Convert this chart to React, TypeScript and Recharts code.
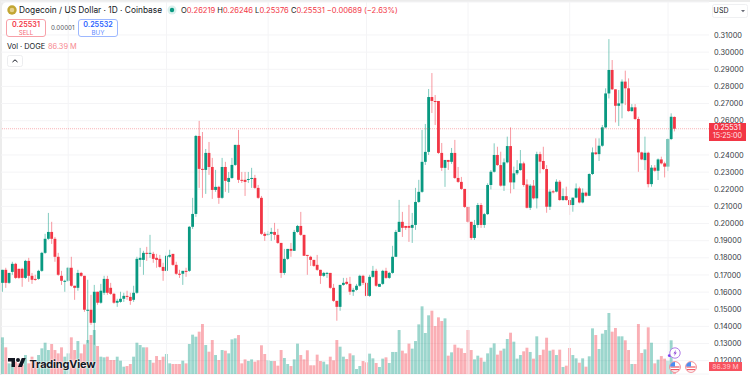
import { Bar, ComposedChart, CartesianGrid, ReferenceLine, XAxis, YAxis } from 'recharts';

const opens = [
  0.1654, 0.173, 0.1654, 0.1718, 0.1765, 0.1736, 0.1736, 0.1683, 0.1782, 0.1695,
  0.1677, 0.1677, 0.1724, 0.1829, 0.1911, 0.1951, 0.1911, 0.1806, 0.1695, 0.166,
  0.1666, 0.1742, 0.1637, 0.1625, 0.1712, 0.1695, 0.1491, 0.1497, 0.1421, 0.1602,
  0.1538, 0.1596, 0.1677, 0.1625, 0.159, 0.1538, 0.1543, 0.1561, 0.1578, 0.1572,
  0.1555, 0.1596, 0.1788, 0.1788, 0.1829, 0.1823, 0.1823, 0.18, 0.1794, 0.1747,
  0.1724, 0.1806, 0.1823, 0.1759, 0.1707, 0.1707, 0.1724, 0.1724, 0.1981, 0.2056,
  0.2511, 0.2319, 0.2313, 0.2412, 0.233, 0.2196, 0.2214, 0.215, 0.233, 0.2243,
  0.2266, 0.2342, 0.2459, 0.2255, 0.2255, 0.2255, 0.226, 0.2266, 0.2208, 0.215,
  0.194, 0.1934, 0.194, 0.1951, 0.1934, 0.1887, 0.1712, 0.1794, 0.1852, 0.1841,
  0.1951, 0.1986, 0.1934, 0.1817, 0.1806, 0.1788, 0.1759, 0.173, 0.1695, 0.1707,
  0.1712, 0.1625, 0.1549, 0.1514, 0.1642, 0.166, 0.1648, 0.1602, 0.1613, 0.1637,
  0.1695, 0.1654, 0.1578, 0.1689, 0.1724, 0.1631, 0.1648, 0.1724, 0.1683, 0.1712,
  0.1806, 0.1951, 0.201, 0.1986, 0.1986, 0.1975, 0.1992, 0.2126, 0.2185, 0.236,
  0.2418, 0.2738, 0.2715, 0.2715, 0.2412, 0.2325, 0.2371, 0.236, 0.2412, 0.2266,
  0.2243, 0.2202, 0.2097, 0.201, 0.1916, 0.1992, 0.2108, 0.1992, 0.2055, 0.2225,
  0.2302, 0.24, 0.2341, 0.2221, 0.2357, 0.2452, 0.224, 0.2293, 0.2312, 0.2351,
  0.2228, 0.2092, 0.2221, 0.2147, 0.2405, 0.2365, 0.2318, 0.2098, 0.2188, 0.2186,
  0.2244, 0.2137, 0.216, 0.2137, 0.2108, 0.2151, 0.2205, 0.2123, 0.218, 0.2162,
  0.2289, 0.2415, 0.2405, 0.2454, 0.2561, 0.2759, 0.2896, 0.2783, 0.2687, 0.2701,
  0.2828, 0.2789, 0.2656, 0.2678, 0.261, 0.2415, 0.237, 0.2413, 0.223, 0.2326,
  0.2308, 0.2374, 0.2351, 0.2332, 0.2493, 0.26219,
];

const highs = [
  0.173, 0.1742, 0.1712, 0.1777, 0.1771, 0.1736, 0.1742, 0.1788, 0.18, 0.1712,
  0.1701, 0.173, 0.1835, 0.194, 0.2062, 0.201, 0.1922, 0.1829, 0.1724, 0.1672,
  0.1747, 0.1806, 0.1637, 0.173, 0.1718, 0.1695, 0.1672, 0.1584, 0.1642, 0.1602,
  0.1648, 0.1695, 0.1695, 0.1654, 0.1596, 0.1561, 0.1602, 0.1596, 0.1608, 0.1596,
  0.1637, 0.1806, 0.1858, 0.1841, 0.1864, 0.1934, 0.1835, 0.1823, 0.1817, 0.1771,
  0.1835, 0.1847, 0.1823, 0.1777, 0.173, 0.1724, 0.1742, 0.1986, 0.215, 0.2517,
  0.2599, 0.2534, 0.2435, 0.2476, 0.2383, 0.2313, 0.222, 0.2383, 0.236, 0.2301,
  0.2383, 0.2459, 0.2546, 0.2301, 0.2301, 0.2301, 0.2325, 0.2284, 0.2225, 0.2161,
  0.1951, 0.1957, 0.1975, 0.2004, 0.1969, 0.1887, 0.1852, 0.1852, 0.1887, 0.1963,
  0.1992, 0.2068, 0.1934, 0.1817, 0.1812, 0.1788, 0.1817, 0.173, 0.1718, 0.1718,
  0.1712, 0.1648, 0.1549, 0.1642, 0.1683, 0.1683, 0.1689, 0.1625, 0.1648, 0.1701,
  0.1701, 0.166, 0.1701, 0.1753, 0.1736, 0.1648, 0.173, 0.1742, 0.1718, 0.187,
  0.1963, 0.2138, 0.2068, 0.1986, 0.2109, 0.2062, 0.2208, 0.2255, 0.2546, 0.2581,
  0.2785, 0.2878, 0.275, 0.2715, 0.247, 0.2371, 0.2371, 0.2441, 0.2488, 0.233,
  0.2272, 0.2202, 0.2097, 0.201, 0.2021, 0.212, 0.212, 0.2062, 0.2235, 0.2312,
  0.2468, 0.2448, 0.2419, 0.238, 0.2507, 0.2561, 0.2332, 0.237, 0.2429, 0.2361,
  0.2258, 0.223, 0.2254, 0.2419, 0.2419, 0.2448, 0.2341, 0.2199, 0.2195, 0.2258,
  0.2254, 0.2205, 0.2215, 0.2156, 0.2151, 0.2234, 0.2215, 0.2205, 0.2186, 0.2293,
  0.2444, 0.2497, 0.2497, 0.2575, 0.2789, 0.3076, 0.2954, 0.2783, 0.2779, 0.2841,
  0.2892, 0.2847, 0.2697, 0.2697, 0.2623, 0.2419, 0.2507, 0.2419, 0.2341, 0.2341,
  0.238, 0.239, 0.2361, 0.2497, 0.2643, 0.26246,
];

const lows = [
  0.1602, 0.1625, 0.1648, 0.1701, 0.1677, 0.1677, 0.1631, 0.1677, 0.166, 0.1648,
  0.1666, 0.1672, 0.1718, 0.1823, 0.1905, 0.1881, 0.1777, 0.1695, 0.1642, 0.1602,
  0.166, 0.1631, 0.1555, 0.1608, 0.1689, 0.1485, 0.1304, 0.1409, 0.1293, 0.1526,
  0.1532, 0.1584, 0.1584, 0.1584, 0.1532, 0.1514, 0.1538, 0.1543, 0.1555, 0.1526,
  0.1543, 0.159, 0.1747, 0.1701, 0.1782, 0.18, 0.1771, 0.1742, 0.1742, 0.1666,
  0.1718, 0.18, 0.1753, 0.1701, 0.1683, 0.1642, 0.1689, 0.1718, 0.1969, 0.2039,
  0.2208, 0.215, 0.2173, 0.2284, 0.2144, 0.2185, 0.2115, 0.2144, 0.2185, 0.2179,
  0.226, 0.2336, 0.2237, 0.2237, 0.2161, 0.2237, 0.2208, 0.2202, 0.2144, 0.1934,
  0.1899, 0.1928, 0.1899, 0.1905, 0.1881, 0.1683, 0.1701, 0.1788, 0.1806, 0.1841,
  0.1946, 0.1928, 0.1812, 0.1701, 0.1753, 0.1747, 0.1724, 0.1648, 0.1689, 0.1683,
  0.1619, 0.1543, 0.1433, 0.1491, 0.1637, 0.1642, 0.1584, 0.1578, 0.1608, 0.1631,
  0.1642, 0.1572, 0.1572, 0.1683, 0.1631, 0.1631, 0.1642, 0.1677, 0.1677, 0.1707,
  0.1806, 0.1951, 0.1922, 0.1963, 0.1893, 0.1887, 0.1963, 0.212, 0.2179, 0.2342,
  0.24, 0.2645, 0.2575, 0.2406, 0.2307, 0.2214, 0.2313, 0.2348, 0.226, 0.2237,
  0.2196, 0.2091, 0.2004, 0.1905, 0.1905, 0.1975, 0.1975, 0.1975, 0.205, 0.2199,
  0.2297, 0.2337, 0.2215, 0.219, 0.2351, 0.2176, 0.2201, 0.2283, 0.2308, 0.2215,
  0.2088, 0.2079, 0.2141, 0.2088, 0.2293, 0.2312, 0.2063, 0.2079, 0.2176, 0.2182,
  0.2133, 0.2133, 0.2133, 0.205, 0.2069, 0.2147, 0.2118, 0.2118, 0.2156, 0.216,
  0.2283, 0.24, 0.2365, 0.2448, 0.2555, 0.273, 0.2779, 0.259, 0.2569, 0.2614,
  0.2691, 0.2652, 0.2652, 0.2604, 0.2302, 0.237, 0.2312, 0.2211, 0.2215, 0.2302,
  0.2254, 0.2345, 0.2269, 0.2306, 0.2487, 0.25376,
];

const closes = [
  0.173, 0.1654, 0.1712, 0.1765, 0.1683, 0.1683, 0.1683, 0.1782, 0.1695, 0.1672,
  0.1672, 0.1724, 0.1829, 0.1911, 0.1951, 0.1911, 0.1806, 0.1701, 0.1666, 0.1666,
  0.1742, 0.1637, 0.1625, 0.1712, 0.1695, 0.1497, 0.1497, 0.1421, 0.1602, 0.1538,
  0.1608, 0.1677, 0.1596, 0.159, 0.1538, 0.1549, 0.1561, 0.1578, 0.1572, 0.1549,
  0.1596, 0.1794, 0.18, 0.1829, 0.1823, 0.1829, 0.1794, 0.1788, 0.1747, 0.1724,
  0.1812, 0.1817, 0.1759, 0.1707, 0.1701, 0.1724, 0.1718, 0.1981, 0.2056, 0.2511,
  0.2319, 0.2313, 0.2412, 0.233, 0.2196, 0.2214, 0.215, 0.233, 0.2249, 0.2266,
  0.2342, 0.2459, 0.2255, 0.2249, 0.2243, 0.226, 0.2266, 0.2208, 0.215, 0.194,
  0.1928, 0.194, 0.1951, 0.1934, 0.1887, 0.1712, 0.1794, 0.1852, 0.1841, 0.1951,
  0.1986, 0.1934, 0.1812, 0.1812, 0.1788, 0.1753, 0.173, 0.1695, 0.1712, 0.1712,
  0.1625, 0.1549, 0.1514, 0.1642, 0.1654, 0.1648, 0.1602, 0.1613, 0.1637, 0.1695,
  0.1654, 0.1578, 0.1689, 0.1724, 0.1637, 0.1648, 0.1724, 0.1683, 0.1712, 0.1806,
  0.1951, 0.201, 0.1975, 0.1975, 0.1975, 0.1992, 0.2126, 0.2185, 0.236, 0.2418,
  0.2738, 0.2715, 0.2709, 0.2412, 0.2325, 0.2371, 0.236, 0.2412, 0.2266, 0.2243,
  0.2202, 0.2097, 0.201, 0.1916, 0.1992, 0.2108, 0.1992, 0.2055, 0.2225, 0.2302,
  0.24, 0.2341, 0.2221, 0.2357, 0.2452, 0.224, 0.2293, 0.2312, 0.2351, 0.2225,
  0.2092, 0.2221, 0.2147, 0.2405, 0.2361, 0.2318, 0.2098, 0.2186, 0.2182, 0.2244,
  0.2137, 0.216, 0.2137, 0.2108, 0.2151, 0.2205, 0.2123, 0.218, 0.2162, 0.2289,
  0.2415, 0.2405, 0.2454, 0.2561, 0.2759, 0.2896, 0.2783, 0.2687, 0.2701, 0.2828,
  0.2789, 0.2656, 0.2678, 0.261, 0.2415, 0.2374, 0.2413, 0.223, 0.2326, 0.2308,
  0.2374, 0.2351, 0.2332, 0.2493, 0.2623, 0.25531,
];

// volume in millions of DOGE
const volumes = [
  396, 288, 115, 108, 133, 115, 97, 205, 115, 187,
  151, 205, 277, 338, 259, 324, 259, 223, 288, 187,
  223, 396, 259, 356, 223, 320, 367, 421, 475, 302,
  187, 180, 187, 151, 151, 187, 144, 79, 86, 108,
  187, 338, 313, 288, 288, 151, 122, 194, 151, 187,
  216, 115, 108, 108, 108, 144, 115, 324, 425, 403,
  457, 540, 313, 241, 367, 205, 151, 259, 252, 223,
  374, 385, 421, 115, 158, 140, 158, 133, 148, 310,
  216, 148, 140, 140, 90, 259, 173, 108, 86, 158,
  328, 205, 158, 256, 94, 94, 209, 140, 133, 104,
  187, 148, 367, 295, 187, 162, 223, 202, 54, 86,
  140, 126, 220, 169, 119, 76, 166, 180, 119, 238,
  238, 475, 252, 223, 328, 274, 356, 536, 731, 443,
  634, 684, 518, 612, 572, 601, 198, 234, 317, 284,
  277, 227, 475, 259, 158, 198, 176, 133, 223, 284,
  331, 209, 252, 274, 378, 446, 349, 166, 205, 245,
  284, 238, 166, 407, 205, 263, 392, 252, 263, 205,
  263, 76, 90, 281, 205, 169, 122, 169, 79, 191,
  493, 421, 270, 436, 475, 659, 457, 497, 407, 407,
  364, 259, 108, 108, 540, 227, 266, 504, 338, 115,
  155, 194, 166, 144, 364, 86.39,
];

const priceTicks = [
  0.12, 0.13, 0.14, 0.15, 0.16, 0.17, 0.18, 0.19, 0.2, 0.21,
  0.22, 0.23, 0.24, 0.25, 0.26, 0.27, 0.28, 0.29, 0.3, 0.31,
];
const monthStarts = [20, 50, 81, 111, 142, 173, 203];
const lastPrice = 0.25531;
const coveredTick = 0.25; // sits behind the price tag, grid line only
const emptySlots = 10;

const GREEN = '#089981';
const RED = '#F23645';
const FONT = 'Inter, "Noto Sans", sans-serif';

const data = [
  ...volumes.map((volume, i) => ({
    day: i,
    open: opens[i],
    high: highs[i],
    low: lows[i],
    close: closes[i],
    volume,
  })),
  ...Array.from({ length: emptySlots }, (_, i) => ({ day: volumes.length + i })),
] as any[];

function renderCandle(props: any) {
  const { x, y, width, height, payload } = props;
  if (payload.open == null || !Number.isFinite(y) || !Number.isFinite(height)) return <g />;
  const { open, high, low, close } = payload;
  const color = close >= open ? GREEN : RED;
  const top = Math.min(y, y + height);
  const span = Math.abs(height);
  const perUnit = span / (high - low);
  const bodyTop = top + (high - Math.max(open, close)) * perUnit;
  const bodyHeight = Math.max(Math.abs(open - close) * perUnit, 1);
  const center = x + width / 2;
  return (
    <g>
      <rect x={center - 0.5} y={top} width={1} height={span} fill={color} opacity={0.5} />
      <rect x={center - 1.4} y={bodyTop} width={2.8} height={bodyHeight} fill={color} />
    </g>
  );
}

function renderVolume(props: any) {
  const { x, y, width, height, payload } = props;
  if (payload.open == null || !Number.isFinite(y) || !Number.isFinite(height)) return <g />;
  const color = payload.close >= payload.open ? GREEN : RED;
  return <rect x={x + width / 2 - 1.45} y={y} width={2.9} height={height} fill={color} opacity={0.4} />;
}

const text = (left: number, top: number, size: number, color: string, extra: any = {}) => ({
  position: 'absolute',
  left,
  top,
  fontSize: size,
  lineHeight: '10px',
  color,
  whiteSpace: 'nowrap',
  ...extra,
}) as any;

function Legend() {
  return (
    <>
      <svg style={{ position: 'absolute', left: 7, top: 5 }} width={10} height={10}>
        <circle cx={5} cy={5} r={4.7} fill="#C2A633" />
        <circle cx={5} cy={5} r={2.3} fill="#E4CF8A" />
      </svg>
      <div style={text(19, 5, 8.35, '#131722')}>Dogecoin / US Dollar · 1D · Coinbase</div>
      <svg style={{ position: 'absolute', left: 167, top: 5 }} width={10} height={10}>
        <circle cx={5} cy={5} r={4.5} fill="#D9F0EC" />
        <circle cx={5} cy={5} r={2.2} fill={GREEN} />
      </svg>
      <div style={text(181, 5.5, 7.55, '#131722')}>
        O<span style={{ color: RED }}>0.26219</span> H<span style={{ color: RED }}>0.26246</span> L
        <span style={{ color: RED }}>0.25376</span> C<span style={{ color: RED }}>0.25531</span>{' '}
        <span style={{ color: RED }}>−0.00689 (−2.63%)</span>
      </div>

      <div style={{ ...text(6, 19, 7.2, RED), width: 40, height: 18, boxSizing: 'border-box', border: '1px solid #F7A0A8', borderRadius: 3, background: '#fff', textAlign: 'center', lineHeight: '8px', paddingTop: 1 }}>
        <div style={{ fontWeight: 600 }}>0.25531</div>
        <div style={{ fontSize: 6.2, opacity: 0.75 }}>SELL</div>
      </div>
      <div style={text(51, 23, 6.2, '#50535E')}>0.00001</div>
      <div style={{ ...text(78, 19, 7.2, '#2962FF'), width: 40, height: 18, boxSizing: 'border-box', border: '1px solid #9DB8FF', borderRadius: 3, background: '#fff', textAlign: 'center', lineHeight: '8px', paddingTop: 1 }}>
        <div style={{ fontWeight: 600 }}>0.25532</div>
        <div style={{ fontSize: 6.2, opacity: 0.75 }}>BUY</div>
      </div>

      <div style={text(7, 42, 7.4, '#131722')}>Vol · DOGE</div>
      <div style={text(48, 42, 7.4, '#F7888F')}>86.39 M</div>
      <svg style={{ position: 'absolute', left: 7, top: 55 }} width={16} height={12}>
        <rect x={0.5} y={0.5} width={15} height={11} rx={2} fill="#fff" stroke="#ECEDEF" />
        <path d="M5.5 7 L8 4.8 L10.5 7" fill="none" stroke="#131722" strokeWidth={1} />
      </svg>

      <svg style={{ position: 'absolute', left: 712, top: 4 }} width={37} height={15}>
        <rect x={0.5} y={0.5} width={35} height={13} rx={2} fill="#fff" stroke="#EFF0F2" />
        <path d="M29 6 L33 6 L31 8.2 Z" fill="#6A6D78" />
      </svg>
      <div style={text(713.5, 6, 7, '#131722', { letterSpacing: 0.2 })}>USD</div>
    </>
  );
}

function Overlays() {
  return (
    <>
      <svg style={{ position: 'absolute', left: 8, top: 356 }} width={18} height={14} viewBox="0 0 36 28">
        <path d="M14 22H7V11H0V4h14v18zM28 22h-8l7.5-18h8L28 22z" fill="#131722" />
        <circle cx={20} cy={8} r={4} fill="#131722" />
      </svg>
      <div style={text(29.5, 357.5, 11, '#131722', { fontWeight: 700, letterSpacing: -0.2, lineHeight: '12px', textShadow: '0 0 2px #fff, 0 0 2px #fff' })}>TradingView</div>

      <div style={{ ...text(709, 123, 7.2, '#FFE3E5'), width: 37, height: 18, background: RED, textAlign: 'center', lineHeight: '8.4px', paddingTop: 0.8, boxSizing: 'border-box' }}>
        <div style={{ color: '#fff' }}>0.25531</div>
        <div>15:25:00</div>
      </div>
      <div style={{ ...text(709, 362, 6.8, '#FFC9CD'), width: 33, height: 9, background: '#F7525F', textAlign: 'center', lineHeight: '9px' }}>86.39 M</div>

      <svg style={{ position: 'absolute', left: 666, top: 346 }} width={34} height={28}>
        <circle cx={3.5} cy={9.5} r={1.6} fill="#7B3FF2" />
        <circle cx={9} cy={7} r={5.2} fill="#fff" stroke="#B27EE8" strokeWidth={1} />
        <path d="M10 3.8 L7.4 7.4 L9 7.4 L8 10.2 L10.8 6.4 L9.2 6.4 Z" fill="#8E44D6" />
        <g>
          <circle cx={9} cy={21} r={5.4} fill="#fff" stroke="#F28B94" strokeWidth={1} />
          <rect x={4.5} y={20.4} width={9} height={1.2} fill="#F05A66" />
          <rect x={5} y={23} width={8} height={1.2} fill="#F05A66" />
          <path d="M4 20.5 A5 5 0 0 1 9 16 L9 20.5 Z" fill="#4C8DF0" />
        </g>
        <g>
          <circle cx={25} cy={21} r={5.4} fill="#fff" stroke="#F28B94" strokeWidth={1} />
          <rect x={20.5} y={20.4} width={9} height={1.2} fill="#F05A66" />
          <rect x={21} y={23} width={8} height={1.2} fill="#F05A66" />
          <path d="M20 20.5 A5 5 0 0 1 25 16 L25 20.5 Z" fill="#4C8DF0" />
        </g>
      </svg>
    </>
  );
}

export default function App() {
  return (
    <div style={{ position: 'absolute', left: 0, top: 0, width: 750, height: 375, overflow: 'hidden', background: '#ECECEC', fontFamily: FONT }}>
      <div style={{ position: 'absolute', left: 2, top: 2, width: 748, height: 373, background: '#fff', borderTopLeftRadius: 5 }} />
      <div style={{ position: 'absolute', left: 0, top: 0 }}>
        <ComposedChart width={750} height={375} data={data} margin={{ top: 2, right: 0, bottom: 1, left: 1 }}>
          <XAxis xAxisId="vol" dataKey="day" hide />
          <XAxis xAxisId="price" dataKey="day" hide />
          <YAxis yAxisId="vol" hide domain={[0, 4018]} allowDataOverflow />
          <YAxis
            yAxisId="price"
            orientation="right"
            width={41}
            domain={[0.11222, 0.32925]}
            allowDataOverflow
            ticks={priceTicks}
            interval={0}
            axisLine={false}
            tickLine={false}
            tickSize={0}
            tickMargin={5}
            tick={{ fontSize: 7.4, fontFamily: FONT, fill: '#363A45', textAnchor: 'start' }}
            tickFormatter={(v: number) => (v === coveredTick ? '' : v.toFixed(5))}
          />
          <CartesianGrid xAxisId="price" yAxisId="price" vertical={false} stroke="#F4F4F6" />
          {monthStarts.map((day) => (
            <ReferenceLine key={day} xAxisId="price" yAxisId="price" x={day} stroke="#F4F4F6" />
          ))}
          <Bar
            xAxisId="vol"
            yAxisId="vol"
            dataKey="volume"
            barSize={3}
            shape={renderVolume}
            activeBar={false}
            isAnimationActive={false}
          />
          <ReferenceLine
            xAxisId="price"
            yAxisId="price"
            y={lastPrice}
            stroke={RED}
            strokeOpacity={0.38}
            strokeDasharray="1 1"
          />
          <Bar
            xAxisId="price"
            yAxisId="price"
            dataKey={(d: any) => (d.open == null ? null : [d.low, d.high])}
            barSize={3}
            shape={renderCandle}
            activeBar={false}
            isAnimationActive={false}
          />
        </ComposedChart>
      </div>
      <Legend />
      <Overlays />
    </div>
  );
}
